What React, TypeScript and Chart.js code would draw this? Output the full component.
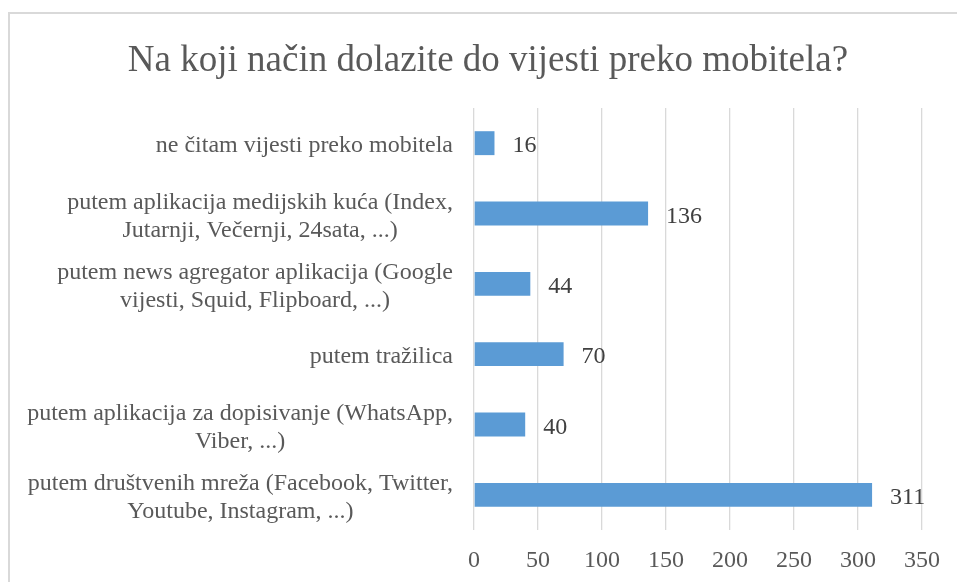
import React, { useEffect, useRef } from "react";
import { Chart, registerables } from "chart.js";

Chart.register(...registerables);

const TITLE = "Na koji način dolazite do vijesti preko mobitela?";
const categories: string[][] = [
  ["ne čitam vijesti preko mobitela"],
  ["putem aplikacija medijskih kuća (Index,", "Jutarnji, Večernji, 24sata, ...)"],
  ["putem news agregator aplikacija (Google", "vijesti, Squid, Flipboard, ...)"],
  ["putem tražilica"],
  ["putem aplikacija za dopisivanje (WhatsApp,", "Viber, ...)"],
  ["putem društvenih mreža (Facebook, Twitter,", "Youtube, Instagram, ...)"],
];
const values: number[] = [16, 136, 44, 70, 40, 311];
const xMin = 0;
const xMax = 350;
const xStep = 50;

const SERIF = "'Liberation Serif', 'Times New Roman', serif";
const TEXT = "#595959";

export default function App() {
  const ref = useRef<HTMLCanvasElement | null>(null);

  useEffect(() => {
    if (!ref.current) return;
    const labelPlugin = {
      id: "customLabels",
      afterDatasetsDraw(chart: any) {
        const ctx = chart.ctx;
        const yScale = chart.scales.y;
        ctx.save();
        ctx.font = `24px ${SERIF}`;
        ctx.fillStyle = TEXT;
        ctx.textBaseline = "middle";
        ctx.textAlign = "center";
        const rightEdge = chart.chartArea.left - 21;
        const lh = 28;
        categories.forEach((lines, i) => {
          const cy = yScale.getPixelForTick(i) + 3;
          const w = Math.max(...lines.map((l) => ctx.measureText(l).width));
          const cx = rightEdge - w / 2;
          const y0 = cy - ((lines.length - 1) * lh) / 2;
          lines.forEach((l, j) => ctx.fillText(l, cx, y0 + j * lh));
        });
        ctx.font = `24px ${SERIF}`;
        ctx.fillStyle = "#404040";
        ctx.textAlign = "left";
        const meta = chart.getDatasetMeta(0);
        meta.data.forEach((bar: any, i: number) => {
          ctx.fillText(String(values[i]), bar.x + 18, bar.y + 3);
        });
        ctx.restore();
      },
    };

    const chart = new Chart(ref.current, {
      type: "bar",
      data: {
        labels: categories.map((c) => c.join(" ")),
        datasets: [
          {
            data: values,
            backgroundColor: "#5B9BD5",
            borderWidth: 0,
            barPercentage: 0.34,
            categoryPercentage: 1,
          },
        ],
      },
      options: {
        indexAxis: "y",
        animation: false,
        responsive: false,
        maintainAspectRatio: false,
        layout: { padding: { left: 54, right: 35, top: 0, bottom: 0 } },
        plugins: {
          legend: { display: false },
          tooltip: { enabled: false },
          title: {
            display: true,
            text: TITLE,
            color: TEXT,
            font: { family: SERIF, size: 37, weight: "normal", lineHeight: 1.2 },
            padding: { top: 39, bottom: 24.6 },
          },
        },
        scales: {
          x: {
            min: xMin,
            max: xMax,
            ticks: {
              stepSize: xStep,
              color: TEXT,
              font: { family: SERIF, size: 24 },
              padding: 16,
            },
            grid: { color: "#d9d9d9", lineWidth: 1.3, drawTicks: false },
            border: { display: false },
            afterFit: (s: any) => {
              s.height = 52;
            },
          },
          y: {
            ticks: { display: false },
            grid: { display: false, drawTicks: false },
            border: { display: false },
            afterFit: (s: any) => {
              s.width = 420;
            },
          },
        },
      },
      plugins: [labelPlugin],
    } as any);
    return () => chart.destroy();
  }, []);

  return (
    <div
      style={{
        position: "fixed",
        left: 0,
        top: 0,
        width: 957,
        height: 582,
        overflow: "hidden",
        background: "#ffffff",
      }}
    >
      <div
        style={{
          position: "absolute",
          left: 8,
          top: 12,
          width: 1200,
          height: 1200,
          borderLeft: "2px solid #d9d9d9",
          borderTop: "2px solid #d9d9d9",
        }}
      />
      <canvas
        ref={ref}
        width={957}
        height={582}
        style={{ position: "absolute", left: 0, top: 0, width: 957, height: 582 }}
      />
    </div>
  );
}
